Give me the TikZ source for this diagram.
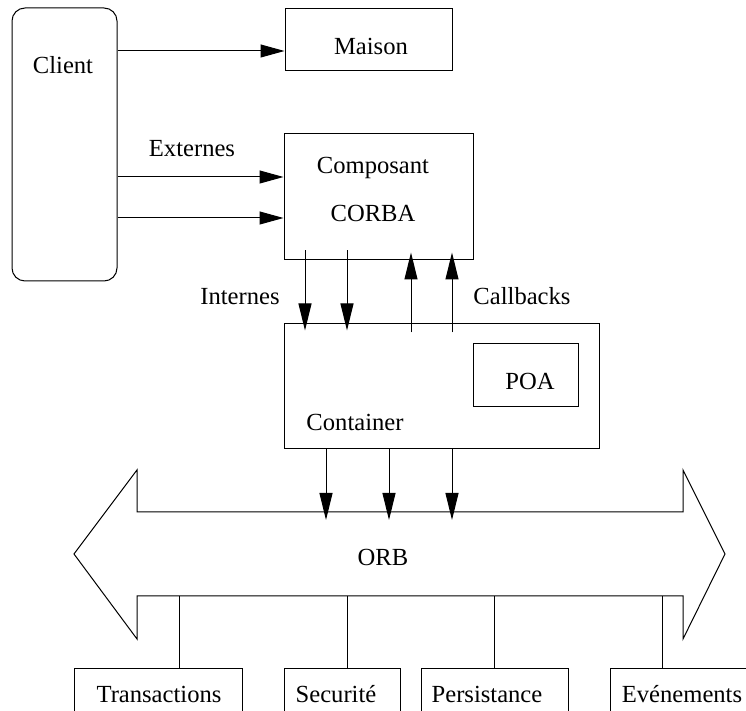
\documentclass[tikz,border=0pt]{standalone}
\usepackage{fontspec}
\setmainfont{Liberation Serif}
\usetikzlibrary{arrows.meta,fit}
\begin{document}
\begin{tikzpicture}[x=0.5pt,y=-0.5pt,
  line width=0.5pt,
  box/.style={draw, inner sep=0pt, fit={#1}},
  lbl/.style={inner sep=0pt, font=\fontsize{12.3}{14}\selectfont},
  harrow/.style={-{Triangle[length=12pt,width=6.5pt]}},
  varrow/.style={-{Triangle[length=13.5pt,width=6.5pt]}}]
\useasboundingbox (0,0) rectangle (746,711);
\clip (0,0) rectangle (746,711);

% boxes
\node[box={(12,8) (117,281)}, rounded corners=6.5pt] (client) {};
\node[box={(285,9) (452,71)}] (maison) {};
\node[box={(284,134) (473,260)}] (comp) {};
\node[box={(284,324) (599,449)}] (cont) {};
\node[box={(473,344) (578,407)}] (poa) {};
\node[box={(74,669) (242,740)}] (trans) {};
\node[box={(284,669) (400,740)}] (secu) {};
\node[box={(421,669) (568,740)}] (pers) {};
\node[box={(610,669) (780,740)}] (even) {};

% texts
\node[lbl] (tclient) at (63,65) {Client};
\node[lbl] (tmaison) at (371,46) {Maison};
\node[lbl] (tcomp) at (373,168) {Composant};
\node[lbl] (tcorba) at (373,213) {CORBA};
\node[lbl] (tpoa) at (530,381) {POA};
\node[lbl] (tcont) at (355,422) {Container};
\node[lbl] (text) at (192,149) {Externes};
\node[lbl] (tint) at (240,297) {Internes};
\node[lbl] (tcb) at (522,296) {Callbacks};
\node[lbl] (orb) at (383,557) {ORB};
\node[lbl] (ttrans) at (159,694) {Transactions};
\node[lbl] (tsecu) at (336,694) {Securité};
\node[lbl] (tpers) at (487,694) {Persistance};
\node[lbl] (teven) at (682,694) {Evénements};

% ORB double arrow
\coordinate (orbT) at (0,512);
\coordinate (orbB) at (0,596);
\draw (74,554) -- (137,470) -- (137 ,0 |- orbT) -- (683,0 |- orbT) -- (683,470)
  -- (725,554) -- (683,639) -- (683,0 |- orbB) -- (137,0 |- orbB) -- (137,639) -- cycle;

% client requests
\draw[harrow] (client.east |- 0,51) -- (maison.west |- 0,51);
\draw[harrow] (client.east |- 0,177) -- (comp.west |- 0,177);
\draw[harrow] (client.east |- 0,218) -- (comp.west |- 0,218);

% internal requests and callbacks
\draw[varrow] ([yshift=5pt]comp.south -| 305,0) -- ([yshift=-3.5pt]cont.north -| 305,0);
\draw[varrow] ([yshift=5pt]comp.south -| 347,0) -- ([yshift=-3.5pt]cont.north -| 347,0);
\draw[varrow] ([yshift=-4.5pt]cont.north -| 411,0) -- ([yshift=4pt]comp.south -| 411,0);
\draw[varrow] ([yshift=-4.5pt]cont.north -| 452,0) -- ([yshift=4pt]comp.south -| 452,0);

% container to ORB
\foreach \x in {326,389,452}
  \draw[varrow] (cont.south -| \x,0) -- ([yshift=-4pt]orbT -| \x,0);

% services attached to the ORB
\draw (orbB -| 179,0) -- (trans.north -| 179,0);
\draw (orbB -| 347,0) -- (secu.north -| 347,0);
\draw (orbB -| 494,0) -- (pers.north -| 494,0);
\draw (orbB -| 662,0) -- (even.north -| 662,0);
\end{tikzpicture}
\end{document}
